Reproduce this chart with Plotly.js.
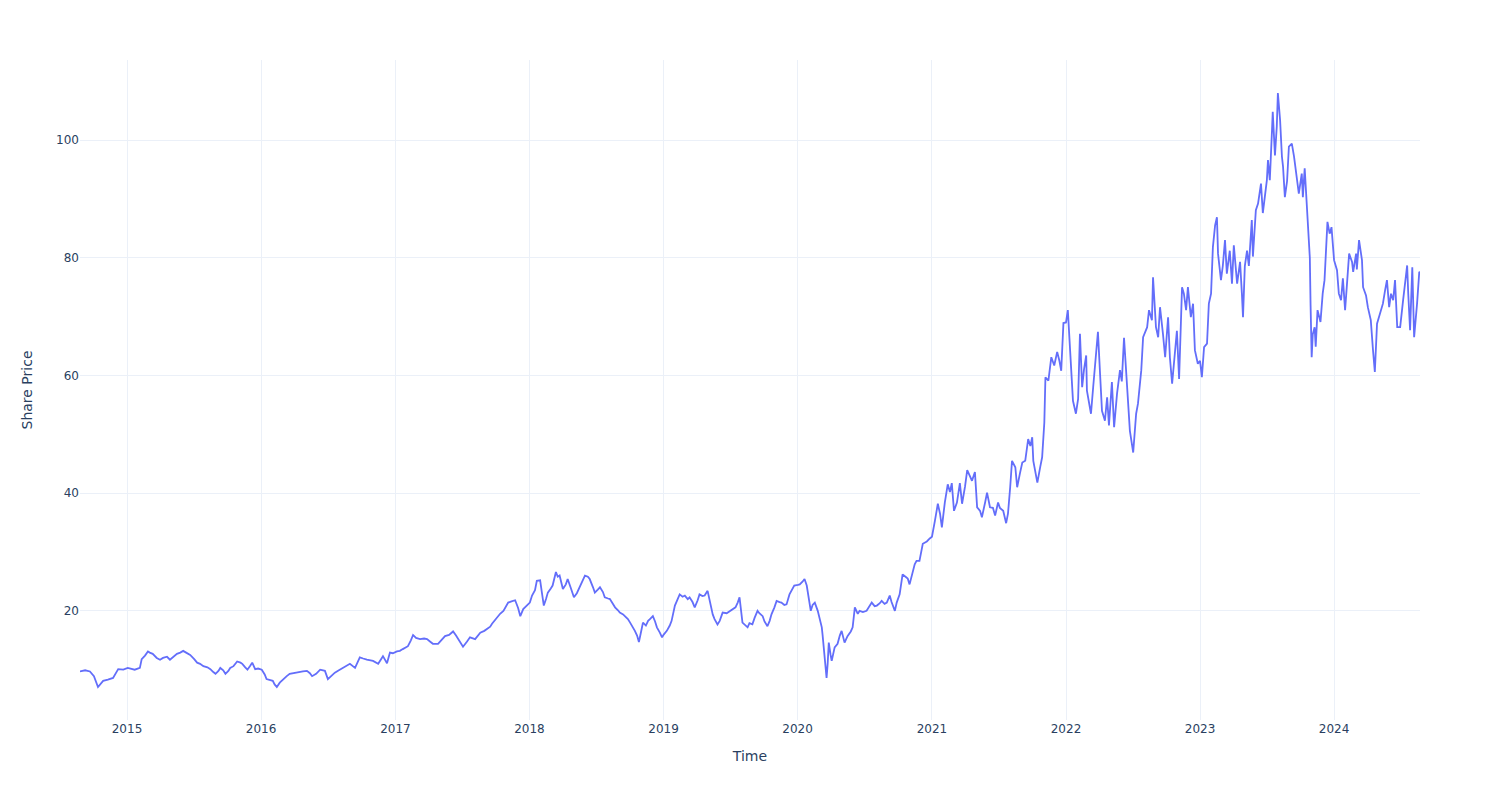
<!DOCTYPE html>
<html>
<head>
<meta charset="utf-8">
<script src="https://cdn.plot.ly/plotly-3.0.1.min.js"></script>
<style>html,body{margin:0;padding:0;background:#fff;}#chart{width:1500px;height:800px;}</style>
</head>
<body>
<div id="chart"></div>
<script>
// Share price readings per year: day (MM-DD) and price
const d2014 = ['08-26','09-09','09-22','10-03','10-14','10-20','10-28','11-10','11-24','12-08','12-22'];
const p2014 = [9.7,9.9,9.7,8.9,7.06,7.6,8.1,8.3,8.6,10.1,10.0];

const d2015 = ['01-03','01-14','01-22','02-05','02-10','02-19','02-27','03-04','03-12','03-23','04-01','04-09','04-20','04-28','05-09','05-17','05-26','06-03','06-11','06-22','07-03','07-11','07-19','07-28','08-08','08-16','08-24','08-30','09-07','09-12','09-20','09-26','10-04','10-09','10-18','10-28','11-06','11-11','11-19','11-25','12-03','12-08','12-16','12-24'];
const p2015 = [10.3,10.2,10.0,10.3,11.8,12.4,13.1,12.9,12.7,12.0,11.7,12.0,12.2,11.7,12.3,12.7,12.9,13.2,12.9,12.5,11.8,11.2,11.0,10.6,10.4,10.1,9.6,9.3,9.8,10.3,9.9,9.3,9.8,10.3,10.6,11.4,11.2,11.0,10.4,10.0,10.7,11.2,10.1,10.2];

const d2016 = ['01-03','01-11','01-16','01-25','02-02','02-07','02-13','02-21','02-29','03-11','03-19','04-02','04-16','04-24','05-05','05-13','05-19','05-30','06-10','06-23','07-01','07-10','07-20','07-31','08-11','08-22','08-30','09-13','09-26','10-05','10-15','11-01','11-15','11-28','12-09','12-17','12-25'];
const p2016 = [10.0,9.2,8.4,8.3,8.1,7.5,7.06,7.8,8.3,8.9,9.3,9.5,9.6,9.7,9.8,9.4,8.9,9.3,10.0,9.8,8.4,9.0,9.5,9.9,10.3,10.6,11.0,10.3,12.1,11.9,11.7,11.5,11.0,12.3,11.1,12.9,12.8];

const d2017 = ['01-05','01-13','01-21','02-04','02-12','02-18','02-26','03-09','03-20','03-28','04-05','04-13','04-27','05-05','05-16','05-27','06-07','06-15','06-21','06-29','07-04','07-15','07-23','08-06','08-14','08-20','08-31','09-08','09-16','09-21','09-30','10-08','10-13','10-22','10-30','11-04','11-13','11-23','12-01','12-07','12-15','12-26'];
const p2017 = [13.1,13.2,13.5,14.0,15.0,15.9,15.4,15.2,15.3,15.2,14.8,14.4,14.4,14.9,15.7,15.9,16.5,15.8,15.2,14.5,13.9,14.8,15.5,15.2,15.8,16.3,16.6,16.9,17.3,17.8,18.5,19.3,19.5,20.0,20.8,21.4,21.6,21.8,20.5,19.1,20.3,20.9];

const d2018 = ['01-02','01-08','01-16','01-21','01-30','02-04','02-09','02-15','02-20','02-28','03-05','03-14','03-19','03-24','04-02','04-10','04-15','04-24','05-02','05-10','05-18','05-26','06-01','06-09','06-14','06-23','06-28','07-06','07-12','07-20','07-25','08-03','08-08','08-16','08-22','08-30','09-04','09-13','09-18','09-26','10-02','10-10','10-15','10-21','10-26','11-01','11-06','11-14','11-20','11-25','12-03','12-09','12-14','12-22','12-28'];
const p2018 = [21.4,22.6,23.5,25.1,25.2,23.0,20.9,22.0,23.1,23.8,24.3,26.6,25.8,26.0,23.7,24.5,25.4,23.8,22.3,23.0,24.0,25.2,26.0,25.8,25.4,24.0,23.1,23.6,24.0,23.2,22.3,22.1,22.0,21.2,20.6,20.1,19.7,19.4,19.1,18.6,18.0,17.2,16.6,15.8,14.7,16.5,18.0,17.5,18.3,18.6,19.1,18.2,17.2,16.3,15.5];

const d2019 = ['01-02','01-10','01-18','01-23','02-01','02-09','02-14','02-22','02-28','03-08','03-13','03-21','03-27','04-04','04-09','04-17','04-23','05-01','05-06','05-15','05-20','05-28','06-03','06-11','06-22','06-30','07-08','07-16','07-22','07-27','08-04','08-10','08-18','08-23','08-31','09-06','09-14','09-19','09-28','10-03','10-11','10-17','10-22','10-30','11-05','11-13','11-18','11-26','12-02','12-10','12-18','12-23'];
const p2019 = [16.0,16.6,17.5,18.3,20.9,22.0,22.8,22.4,22.6,22.0,22.3,21.5,20.6,21.8,22.8,22.5,22.6,23.4,22.0,19.4,18.6,17.7,18.3,19.7,19.6,19.9,20.2,20.6,21.4,22.3,18.0,17.6,17.2,17.9,17.7,18.8,20.0,19.6,19.1,18.2,17.4,18.3,19.4,20.6,21.7,21.5,21.4,21.0,21.1,22.8,23.6,24.3];

const d2020 = ['01-02','01-07','01-15','01-20','01-26','01-31','02-06','02-11','02-17','02-25','03-01','03-07','03-09','03-15','03-20','03-23','03-26','03-31','04-03','04-11','04-19','04-25','04-30','05-08','05-16','05-25','05-30','06-05','06-13','06-18','06-27','07-07','07-16','07-21','07-29','08-04','08-12','08-17','08-25','08-31','09-08','09-13','09-22','09-27','10-05','10-13','10-21','10-27','11-01','11-09','11-15','11-20','11-28','12-07','12-18','12-26'];
const p2020 = [24.4,24.5,25.0,25.4,24.3,22.0,20.0,21.0,21.4,20.0,18.6,17.2,16.0,12.6,8.6,11.0,14.6,12.5,11.5,13.8,14.4,15.8,16.6,14.6,15.7,16.5,17.2,20.6,19.5,20.0,19.8,20.0,20.8,21.4,20.8,20.9,21.3,21.7,21.2,21.4,22.6,21.5,20.0,21.4,22.8,26.2,25.8,25.5,24.5,26.5,27.9,28.5,28.5,31.4,31.8,32.3];

const d2021 = ['01-01','01-09','01-17','01-23','01-28','02-05','02-13','02-19','02-24','03-02','03-10','03-18','03-24','04-01','04-07','04-15','04-20','04-28','05-04','05-12','05-17','05-26','05-31','06-08','06-16','06-22','06-30','07-05','07-14','07-22','07-27','08-02','08-07','08-16','08-21','08-29','09-04','09-12','09-20','09-26','10-01','10-04','10-09','10-15','10-23','10-28','11-03','11-06','11-14','11-22','11-30','12-08','12-14','12-19','12-25'];
const p2021 = [32.6,35.3,38.2,36.5,34.2,38.4,41.5,40.2,41.7,37.0,38.4,41.7,38.2,41.1,43.9,42.8,42.1,43.6,37.6,37.0,35.9,38.5,40.1,37.6,37.5,36.2,38.4,37.5,37.0,34.9,36.5,41.0,45.5,44.4,41.0,43.5,45.2,45.5,49.2,48.0,49.5,45.5,44.0,41.8,44.5,46.1,52.0,59.7,59.1,63.1,61.7,64.0,62.5,60.8,68.9];

const d2022 = ['01-01','01-06','01-12','01-20','01-28','02-03','02-08','02-14','02-19','02-25','02-27','03-05','03-10','03-16','03-21','03-29','04-04','04-09','04-17','04-23','04-28','05-06','05-12','05-20','05-28','06-02','06-08','06-16','06-24','07-03','07-11','07-16','07-25','07-30','08-10','08-15','08-23','08-26','09-03','09-09','09-14','09-22','09-28','10-06','10-11','10-17','10-25','10-30','11-05','11-13','11-18','11-24','11-29','12-07','12-13','12-18','12-26'];
const p2022 = [69.0,71.1,65.0,55.7,53.5,56.0,67.1,58.0,61.0,63.4,57.4,55.0,53.5,58.0,62.0,67.4,60.0,54.0,52.3,56.3,51.5,58.9,51.2,56.9,60.9,59.0,66.4,58.0,50.6,46.9,53.5,55.2,60.9,66.5,68.2,71.1,69.4,76.7,68.2,66.5,71.6,67.1,63.1,69.9,63.0,58.6,64.8,67.6,59.4,75.0,73.9,71.1,75.0,69.9,72.2,64.3,62.0];

const d2023 = ['01-01','01-06','01-12','01-20','01-25','01-31','02-05','02-11','02-16','02-19','02-27','03-04','03-10','03-15','03-23','03-29','04-03','04-12','04-20','04-25','04-28','05-03','05-09','05-14','05-22','05-25','06-02','06-08','06-16','06-21','06-27','07-02','07-05','07-10','07-16','07-18','07-24','07-29','08-01','08-07','08-12','08-15','08-20','08-26','08-31','09-08','09-14','09-22','09-27','10-05','10-08','10-13','10-19','10-24','10-27','10-29','11-01','11-04','11-09','11-12','11-17','11-25','12-01','12-06','12-14','12-20','12-25'];
const p2023 = [62.5,59.7,64.8,65.4,72.2,73.9,81.8,85.5,86.9,80.7,76.2,78.6,83.0,77.3,81.2,75.6,82.1,75.6,79.3,73.9,69.9,78.6,81.2,78.6,86.4,80.2,88.1,89.2,92.6,87.6,91.0,93.2,96.6,93.2,101.7,104.8,97.4,102.3,108.0,103.4,97.2,95.5,90.3,93.0,98.9,99.4,97.2,93.8,90.9,94.3,90.3,95.2,88.9,84.1,80.0,72.0,63.1,67.0,68.2,64.9,71.1,69.1,73.9,76.2,86.1,84.1,85.2];

const d2024 = ['01-01','01-09','01-14','01-20','01-25','01-31','02-05','02-11','02-19','02-22','03-01','03-03','03-09','03-17','03-20','03-28','04-02','04-10','04-16','04-21','04-27','05-05','05-13','05-19','05-24','05-30','06-04','06-10','06-15','06-21','06-29','07-07','07-13','07-18','07-21','07-26','08-01','08-06','08-14','08-20','08-22'];
const p2024 = [79.6,77.9,73.9,72.8,76.5,71.1,75.4,80.7,79.3,77.6,80.7,78.0,83.0,79.6,75.0,73.6,71.6,69.4,64.3,60.6,68.8,70.5,72.2,74.5,76.2,71.6,73.9,72.8,76.2,68.2,68.2,72.8,76.7,78.7,73.9,67.7,78.4,66.5,72.2,77.6,77.5];

const years = [
  [2014, d2014, p2014], [2015, d2015, p2015], [2016, d2016, p2016],
  [2017, d2017, p2017], [2018, d2018, p2018], [2019, d2019, p2019],
  [2020, d2020, p2020], [2021, d2021, p2021], [2022, d2022, p2022],
  [2023, d2023, p2023], [2024, d2024, p2024]
];

const dates = [];
const prices = [];
years.forEach(([yr, ds, ps]) => {
  ds.forEach((d, i) => { dates.push(yr + '-' + d); prices.push(ps[i]); });
});

const trace = {
  x: dates,
  y: prices,
  type: 'scatter',
  mode: 'lines',
  line: {color: '#636efa', width: 1.8},
  showlegend: false
};

const layout = {
  width: 1500,
  height: 800,
  margin: {t: 60, l: 80, r: 80, b: 80},
  paper_bgcolor: '#ffffff',
  plot_bgcolor: '#ffffff',
  font: {family: '"DejaVu Sans", verdana, arial, sans-serif', color: '#2a3f5f', size: 12},
  xaxis: {
    title: {text: 'Time', standoff: 16},
    gridcolor: '#EBF0F8',
    zeroline: false,
    showline: false,
    ticks: '',
    type: 'date'
  },
  yaxis: {
    title: {text: 'Share Price', standoff: 20},
    gridcolor: '#EBF0F8',
    zerolinecolor: '#EBF0F8',
    zeroline: false,
    showline: false,
    ticks: ''
  }
};

Plotly.newPlot('chart', [trace], layout, {displayModeBar: false});
</script>
</body>
</html>
